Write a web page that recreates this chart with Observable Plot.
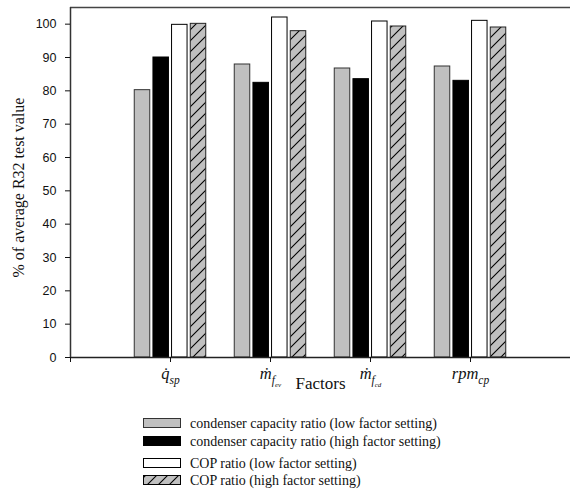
<!DOCTYPE html>
<html>
<head>
<meta charset="utf-8">
<script src="https://cdn.jsdelivr.net/npm/d3@7"></script>
<script src="https://cdn.jsdelivr.net/npm/@observablehq/plot@0.6"></script>
<style>
  html, body { margin: 0; padding: 0; background: #fff; }
  svg { display: block; }
</style>
</head>
<body>
<div id="chart"></div>
<script>
// ---- data ----
const factors = ["q̇sp", "ṁfev", "ṁfcd", "rpmcp"];
const factorBase = ["q̇", "ṁ", "ṁ", "rpm"];
const factorSub = ["sp", "f", "f", "cp"];
const factorSubSub = ["", "ev", "cd", ""];
const series = [
  "condenser capacity ratio (low factor setting)",
  "condenser capacity ratio (high factor setting)",
  "COP ratio (low factor setting)",
  "COP ratio (high factor setting)"
];
const condLow  = [80.2, 87.9, 86.7, 87.3];
const condHigh = [90.0, 82.4, 83.5, 83.0];
const copLow   = [99.8, 102.0, 100.8, 101.0];
const copHigh  = [100.1, 97.9, 99.3, 99.0];
const yTicks = [0, 10, 20, 30, 40, 50, 60, 70, 80, 90, 100];

// ---- layout / styling ----
const offsets = [-0.28, -0.093, 0.093, 0.28];
const hw = 0.0775;
const styles = [
  {fill: "#c0c0c0", stroke: "#333"},
  {fill: "#000", stroke: "#000"},
  {fill: "#fff", stroke: "#000"},
  {fill: "url(#hatch)", stroke: "#222"}
];
const values = [condLow, condHigh, copLow, copHigh];

const barMarks = values.map((vals, s) => {
  const rows = factors.map((f, i) => ({pos: i + 1, factor: f, series: series[s], value: vals[i]}));
  return Plot.rectY(rows, {
    x1: d => d.pos + offsets[s] - hw,
    x2: d => d.pos + offsets[s] + hw,
    y1: 0,
    y2: "value",
    fill: styles[s].fill,
    stroke: styles[s].stroke,
    strokeWidth: 1
  });
});

const serif = "'Liberation Serif', 'Times New Roman', serif";
const sans = "'Liberation Sans', Arial, sans-serif";

const chart = Plot.plot({
  width: 570,
  height: 400,
  marginLeft: 70,
  marginRight: 0,
  marginTop: 7,
  marginBottom: 43,
  style: {background: "#fff", color: "#111"},
  x: {type: "linear", domain: [0, 5]},
  y: {domain: [0, 105]},
  marks: [
    ...barMarks,
    Plot.ruleY([0], {stroke: "#222", strokeWidth: 1.5}),
    Plot.ruleY([105], {stroke: "#444", strokeWidth: 1.5}),
    Plot.ruleX([0], {stroke: "#333", strokeWidth: 1.5}),
    Plot.axisY({ticks: yTicks, tickSize: 5, tickPadding: 9, label: null, fontSize: 12.5, fontFamily: sans}),
    Plot.axisX({ticks: [0, 1, 2, 3, 4, 5], tickSize: 5, tickPadding: 3, label: null,
      tickFormat: d => factors[d - 1] ?? "", fontSize: 16.5, fontFamily: serif}),
    Plot.text(["% of average R32 test value"], {text: d => d, frameAnchor: "left", textAnchor: "middle",
      rotate: -90, dx: -52, dy: 5, fontSize: 16, fontFamily: serif, fill: "#111"}),
    Plot.text(["Factors"], {text: d => d, frameAnchor: "bottom", lineAnchor: "bottom",
      dy: 31, fontSize: 17, fontFamily: serif, fill: "#111"})
  ]
});

const svg = d3.select(chart);
svg.insert("defs", ":first-child").html(
  `<pattern id="hatch" patternUnits="userSpaceOnUse" width="11" height="11">
     <rect width="11" height="11" fill="#c0c0c0"/>
     <path d="M-1,1 L1,-1 M0,11 L11,0 M10,12 L12,10" stroke="#000" stroke-width="1.1"/>
   </pattern>`);

// rich x tick labels with subscripts
svg.selectAll('g[aria-label="x-axis tick label"] text').each(function() {
  const t = d3.select(this);
  const idx = factors.indexOf(this.textContent);
  if (idx < 0) return;
  t.text(null).attr("y", 13).attr("dy", null).style("font-style", "italic");
  t.append("tspan").text(factorBase[idx]);
  t.append("tspan").attr("font-size", 11.5).attr("dy", 5).text(factorSub[idx]);
  if (factorSubSub[idx]) t.append("tspan").attr("font-size", 7).attr("dy", 3).text(factorSubSub[idx]);
});

document.getElementById("chart").appendChild(chart);

// ---- legend ----
const leg = d3.select("#chart").append("svg").attr("width", 570).attr("height", 91)
  .style("background", "#fff");
leg.append("defs").html(
  `<pattern id="hatchL" patternUnits="userSpaceOnUse" width="11" height="11" x="1" y="0">
     <rect width="11" height="11" fill="#c0c0c0"/>
     <path d="M-1,1 L1,-1 M0,11 L11,0 M10,12 L12,10" stroke="#000" stroke-width="1.1"/>
   </pattern>`);
const legTops = [18, 36, 58, 75];
const legFills = ["#c0c0c0", "#000", "#fff", "url(#hatchL)"];
series.forEach((name, s) => {
  leg.append("rect").attr("x", 143.5).attr("y", legTops[s] + 0.5).attr("width", 37).attr("height", 9)
    .attr("fill", legFills[s]).attr("stroke", s === 0 ? "#333" : "#000").attr("stroke-width", 1);
  leg.append("text").attr("x", 190).attr("y", legTops[s] + 9.5)
    .attr("font-family", serif).attr("font-size", 14).attr("fill", "#111").text(name);
});
</script>
</body>
</html>
